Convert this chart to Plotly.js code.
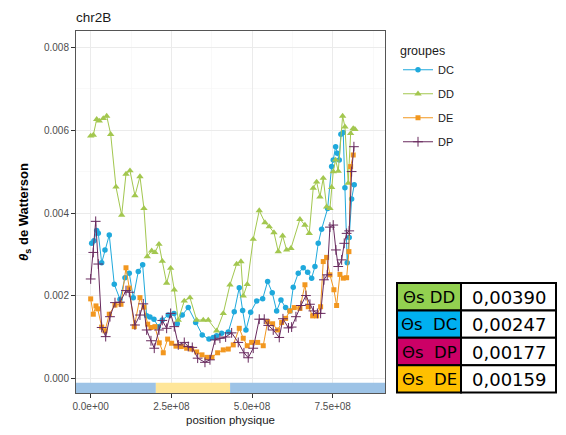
<!DOCTYPE html>
<html>
<head>
<meta charset="utf-8">
<script src="https://cdn.plot.ly/plotly-3.0.1.min.js"></script>
<style>html,body{margin:0;padding:0;background:#fff;}#chart{width:566px;height:435px;}</style>
</head>
<body>
<div id="chart"></div>
<script>
// positions in Mb, theta values
const groupNames = ['DC', 'DD', 'DE', 'DP'];

const dcPos = [3.1,10.2,18.6,23.5,34.1,44.3,57.6,73.1,90.8,106.3,119.6,132.0,147.5,161.1,173.5,183.7,196.1,209.4,221.8,240.4,258.1,268.3,283.8,302.4,325.3,345.7,366.5,379.8,390.3,405.8,426.3,444.9,460.4,470.9,481.1,495.7,514.3,532.9,548.3,562.6,576.2,589.6,604.1,617.4,627.7,643.2,658.6,672.3,684.7,694.9,705.1,715.6,734.2,746.6,751.6,759.0,764.0,770.2,775.4,782.6,787.8,794.9,801.1,808.6,816.6];
const dcTheta = [0.00327,0.00333,0.00358,0.00351,0.00280,0.00311,0.00347,0.00228,0.00192,0.00244,0.00255,0.00196,0.00259,0.00275,0.00152,0.00149,0.00144,0.00126,0.00142,0.00154,0.00158,0.00133,0.00154,0.00172,0.00136,0.00106,0.00096,0.00100,0.00104,0.00110,0.00113,0.00162,0.00220,0.00165,0.00118,0.00161,0.00188,0.00193,0.00235,0.00208,0.00164,0.00190,0.00172,0.00164,0.00221,0.00255,0.00268,0.00257,0.00243,0.00271,0.00327,0.00361,0.00411,0.00512,0.00528,0.00560,0.00544,0.00528,0.00590,0.00594,0.00461,0.00280,0.00341,0.00434,0.00468];

const ddPos = [0,8.1,18.6,26.6,39.0,49.6,62.0,78.4,96.0,109.4,121.8,137.2,152.7,165.1,175.3,189.0,199.2,211.6,221.8,235.4,247.8,259.0,271.4,290.0,307.6,328.4,348.8,364.3,390.3,410.8,431.6,452.3,465.6,472.8,485.1,503.7,522.3,540.0,553.3,567.9,581.2,594.8,607.2,620.6,648.4,663.9,677.2,689.6,700.1,710.4,720.6,731.1,741.4,746.6,751.6,759.0,767.1,780.7,787.8,798.0,805.5,813.5,818.8];
const ddTheta = [0.00586,0.00588,0.00626,0.00622,0.00628,0.00634,0.00590,0.00463,0.00395,0.00494,0.00502,0.00442,0.00488,0.00411,0.00295,0.00309,0.00305,0.00325,0.00284,0.00231,0.00267,0.00215,0.00142,0.00188,0.00196,0.00142,0.00142,0.00142,0.00116,0.00158,0.00227,0.00277,0.00283,0.00200,0.00228,0.00337,0.00406,0.00377,0.00367,0.00353,0.00307,0.00345,0.00311,0.00315,0.00385,0.00371,0.00351,0.00460,0.00475,0.00439,0.00484,0.00415,0.00411,0.00462,0.00500,0.00528,0.00501,0.00634,0.00608,0.00472,0.00592,0.00604,0.00602];

const dePos = [0,8.1,16.4,21.7,34.1,44.3,57.6,75.3,93.9,109.4,119.6,135.1,152.7,165.1,176.6,186.8,199.2,212.5,224.9,238.5,250.9,264.3,280.7,297.4,312.9,328.4,344.9,360.3,375.8,393.4,410.8,426.3,441.8,460.4,472.8,485.1,498.8,517.4,534.7,548.3,563.8,579.3,591.7,604.1,617.4,630.8,648.4,663.9,674.1,687.8,700.1,712.5,720.6,731.1,741.4,753.7,762.1,772.3,782.6,793.1,800.2,805.5,813.5];
const deTheta = [0.00193,0.00156,0.00176,0.00169,0.00125,0.00116,0.00156,0.00178,0.00180,0.00268,0.00219,0.00126,0.00196,0.00173,0.00132,0.00124,0.00126,0.00087,0.00063,0.00096,0.00086,0.00079,0.00078,0.00074,0.00072,0.00065,0.00058,0.00052,0.00052,0.00063,0.00070,0.00072,0.00082,0.00122,0.00098,0.00080,0.00088,0.00088,0.00080,0.00138,0.00133,0.00118,0.00136,0.00146,0.00164,0.00172,0.00170,0.00227,0.00174,0.00152,0.00152,0.00174,0.00283,0.00293,0.00251,0.00215,0.00177,0.00252,0.00243,0.00244,0.00307,0.00512,0.00540];

const dpPos = [0,8.1,15.5,23.5,34.1,46.5,59.8,75.3,90.8,109.4,119.6,137.2,152.7,163.0,173.5,186.8,197.0,211.6,221.8,235.4,247.8,259.0,271.4,290.0,302.4,314.8,331.5,354.1,369.6,385.1,400.6,418.2,436.8,457.3,474.9,488.2,503.7,522.3,537.8,550.2,565.7,584.3,595.8,612.8,622.7,636.0,651.5,667.0,679.4,690.2,702.6,712.5,722.8,733.0,741.4,751.6,759.9,767.1,777.6,785.7,793.1,801.1,808.6,815.7];
const dpTheta = [0.00241,0.00305,0.00380,0.00277,0.00124,0.00102,0.00150,0.00184,0.00185,0.00213,0.00209,0.00130,0.00154,0.00181,0.00118,0.00092,0.00074,0.00118,0.00141,0.00122,0.00158,0.00126,0.00082,0.00088,0.00078,0.00076,0.00050,0.00040,0.00046,0.00094,0.00098,0.00101,0.00111,0.00088,0.00063,0.00051,0.00074,0.00144,0.00144,0.00129,0.00118,0.00100,0.00145,0.00123,0.00125,0.00150,0.00177,0.00201,0.00180,0.00164,0.00158,0.00158,0.00239,0.00251,0.00366,0.00371,0.00311,0.00271,0.00287,0.00327,0.00351,0.00357,0.00500,0.00560];

// x ticks
const xTickVals = [0, 2.5e8, 5.0e8, 7.5e8];
const xTickText = ['0.0e+00', '2.5e+08', '5.0e+08', '7.5e+08'];
const xMinorVals = [-1.25e8, 1.25e8, 3.75e8, 6.25e8, 8.75e8];
const yTickVals = [0, 0.002, 0.004, 0.006, 0.008];
const yTickText = ['0.000', '0.002', '0.004', '0.006', '0.008'];
const yMinorVals = [0.001, 0.003, 0.005, 0.007];

// chromosome region band (bp)
const bandStart = [-4.55e7, 2.02e8, 4.32e8];
const bandEnd = [2.02e8, 4.32e8, 9.12e8];
const bandColors = ['#9dc3e6', '#ffe699', '#9dc3e6'];

// summary table
const tableLabels = ['Θs DD', 'Θs\u00a0 DC', 'Θs\u00a0 DP', 'Θs\u00a0 DE'];
const tableValues = ['0,00390', '0,00247', '0,00177', '0,00159'];
const tableColors = ['#92d050', '#00b0f0', '#cc0066', '#ffc000'];

const W = 566, H = 435;
const M = {l: 76, r: 9, t: 31, b: 42};
const plotW = W - M.l - M.r, plotH = H - M.t - M.b;
const px2x = p => (p - M.l) / plotW;
const px2y = p => (H - M.b - p) / plotH;

const toBp = a => a.map(v => v * 1e6);

const series = [
  {name: 'DC', x: dcPos, y: dcTheta, color: '#1fa9dc', symbol: 'circle', size: 5.5},
  {name: 'DD', x: ddPos, y: ddTheta, color: '#a3c74f', symbol: 'triangle-up', size: 6.5},
  {name: 'DE', x: dePos, y: deTheta, color: '#f2971f', symbol: 'square', size: 5},
  {name: 'DP', x: dpPos, y: dpTheta, color: '#682a5e', symbol: 'cross-thin-open', size: 7}
];

const traces = series.map(s => ({
  type: 'scatter', mode: 'lines+markers', name: s.name, legendgroup: s.name,
  x: toBp(s.x), y: s.y,
  line: {color: s.color, width: 1},
  marker: {color: s.color, symbol: s.symbol, size: s.size, line: {color: s.color, width: s.symbol.indexOf('open') >= 0 ? 1 : 0}}
}));

const shapes = bandStart.map((s, i) => ({
  type: 'rect', xref: 'x', yref: 'y', x0: s, x1: bandEnd[i], y0: -0.00034, y1: -0.00009,
  fillcolor: bandColors[i], line: {width: 0}, layer: 'above'
}));

// table drawn with shapes + annotations
const tL = 397, tM = 461, tR = 556, tTop = 283, rowH = 27.4;
const annotations = [];
tableLabels.forEach((lab, i) => {
  const top = tTop + i * rowH, bot = top + rowH;
  shapes.push({type: 'rect', xref: 'paper', yref: 'paper', x0: px2x(tL), x1: px2x(tM), y0: px2y(bot), y1: px2y(top),
    fillcolor: tableColors[i], line: {color: '#000', width: 2}});
  shapes.push({type: 'rect', xref: 'paper', yref: 'paper', x0: px2x(tM), x1: px2x(tR), y0: px2y(bot), y1: px2y(top),
    fillcolor: '#ffffff', line: {color: '#000', width: 2}});
  annotations.push({xref: 'paper', yref: 'paper', x: px2x((tL + tM) / 2), y: px2y((top + bot) / 2 + 0.5),
    xanchor: 'center', yanchor: 'middle', showarrow: false, text: lab,
    font: {family: 'DejaVu Sans', size: 16.5, color: '#000'}});
  annotations.push({xref: 'paper', yref: 'paper', x: px2x((tM + tR) / 2), y: px2y((top + bot) / 2 + 0.5),
    xanchor: 'center', yanchor: 'middle', showarrow: false, text: tableValues[i],
    font: {family: 'DejaVu Sans', size: 18, color: '#000'}});
});

const layout = {
  width: W, height: H,
  margin: M,
  paper_bgcolor: '#ffffff', plot_bgcolor: '#ffffff',
  font: {family: 'Liberation Sans, Arial, sans-serif', color: '#1a1a1a'},
  title: {text: 'chr2B', x: 0, xref: 'paper', xanchor: 'left', y: 0.961, yanchor: 'middle', font: {size: 13.5, color: '#1a1a1a'}},
  showlegend: true,
  legend: {
    x: px2x(398), y: px2y(39), xanchor: 'left', yanchor: 'top',
    title: {text: 'groupes', font: {size: 12.5, color: '#1a1a1a'}},
    font: {size: 11, color: '#1a1a1a'},
    tracegroupgap: 5, bgcolor: 'rgba(0,0,0,0)'
  },
  xaxis: {
    domain: [0, (385 - M.l) / plotW], range: [-4.55e7, 9.12e8],
    tickmode: 'array', tickvals: xTickVals, ticktext: xTickText,
    ticks: 'outside', ticklen: 4, tickcolor: '#333333', tickwidth: 1,
    tickfont: {size: 10, color: '#4d4d4d'},
    showgrid: true, gridcolor: '#ebebeb', gridwidth: 1,
    minor: {tickmode: 'array', tickvals: xMinorVals, showgrid: true, gridcolor: '#f5f5f5', gridwidth: 0.6, ticks: ''},
    zeroline: false, showline: true, mirror: true, linecolor: '#555555', linewidth: 1,
    title: {text: 'position physique', font: {size: 11.5, color: '#1a1a1a'}, standoff: 4}
  },
  yaxis: {
    range: [-0.00034, 0.00839],
    tickmode: 'array', tickvals: yTickVals, ticktext: yTickText,
    ticks: 'outside', ticklen: 4, tickcolor: '#333333', tickwidth: 1,
    tickfont: {size: 10, color: '#4d4d4d'},
    showgrid: true, gridcolor: '#ebebeb', gridwidth: 1,
    minor: {tickmode: 'array', tickvals: yMinorVals, showgrid: true, gridcolor: '#f5f5f5', gridwidth: 0.6, ticks: ''},
    zeroline: false, showline: true, mirror: true, linecolor: '#555555', linewidth: 1,
    title: {text: '<b><i>θ</i><sub>s</sub> de Watterson</b>', font: {size: 13, color: '#000000'}, standoff: 12}
  },
  shapes: shapes,
  annotations: annotations
};

Plotly.newPlot('chart', traces, layout, {displayModeBar: false, staticPlot: true});
</script>
</body>
</html>
